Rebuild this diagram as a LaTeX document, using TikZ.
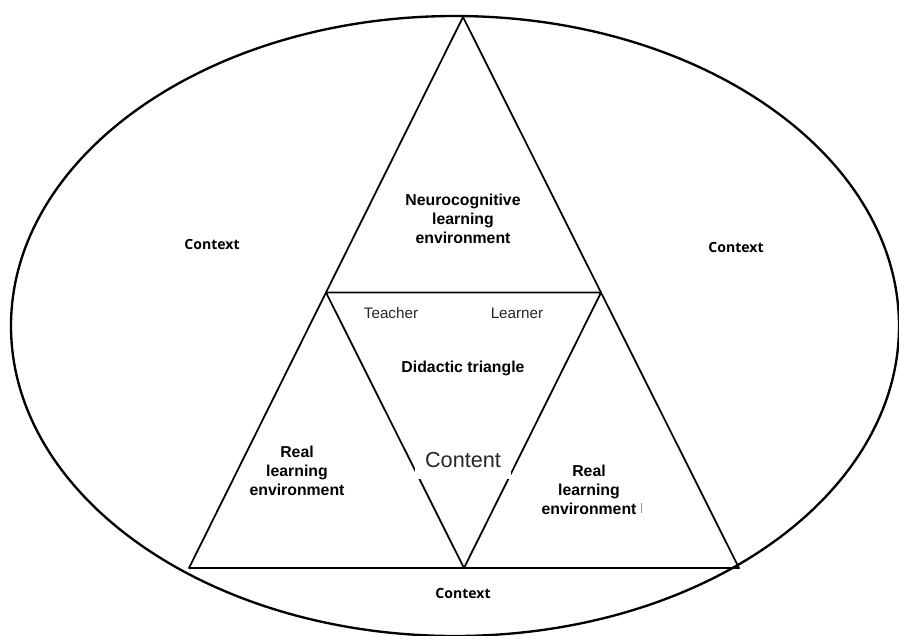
\documentclass[tikz,border=0pt]{standalone}
\usepackage{fontspec}
\setmainfont{Liberation Sans}
\newfontfamily\ctxfont{Open Sans}
\usetikzlibrary{positioning,calc}

\tikzset{
  edge/.style={
    line width=1.5pt,
    line join=round
  },
  ring/.style={
    line width=2pt
  },
  area/.style={
    align=center,
    font=\fontsize{13.5}{16.2}\selectfont\bfseries,
    inner sep=1pt
  },
  corner/.style={
    font=\fontsize{13}{15}\selectfont,
    text=black!85,
    inner sep=1pt
  },
  ctx/.style={
    font=\fontsize{12}{14}\selectfont\ctxfont\bfseries,
    inner sep=1pt
  },
  content/.style={
    font=\fontsize{18.5}{22}\selectfont,
    text=black!85,
    fill=white,
    minimum width=2.9cm,
    text depth=0.3cm,
    inner sep=2pt
  }
}

\begin{document}
\begin{tikzpicture}[x=0.03cm,y=-0.03cm]

    \useasboundingbox (0,0) rectangle (899,635);
    \fill[white] (0,0) rectangle (899,635);

    % outer context
    \draw[ring] (455,326) ellipse [x radius=444, y radius=310];

    % corners of the big triangle and its midpoints
    \coordinate (top) at (463,17);
    \coordinate (bl) at (189,568);
    \coordinate (br) at (739,568);
    \coordinate (ml) at ($(top)!0.5!(bl)$);
    \coordinate (mr) at ($(top)!0.5!(br)$);
    \coordinate (mb) at ($(bl)!0.5!(br)$);

    \draw[edge] (top) -- (bl) -- (br) -- cycle;
    \draw[edge] (ml) -- (mr) -- (mb) -- cycle;

    \node[area] (neuro) at (463,219) {Neurocognitive\\learning\\environment};
    \node[area] (realL) at (297,471) {Real\\learning\\environment};
    \node[area] (realR) at (589,490) {Real\\learning\\environment};
    \draw[black!40, line width=0.5pt] (641,503) -- (641,513);

    \node[corner] (teacher) at (391,313) {Teacher};
    \node[corner] (learner) at (517,313) {Learner};
    \node[area] (didactic) at (463,368) {Didactic triangle};
    \node[content, anchor=base] (content) at (463,467) {Content};

    \node[ctx] (ctxL) at (212,244) {Context};
    \node[ctx] (ctxR) at (736,247) {Context};
    \node[ctx] (ctxB) at (463,593) {Context};

\end{tikzpicture}
\end{document}
